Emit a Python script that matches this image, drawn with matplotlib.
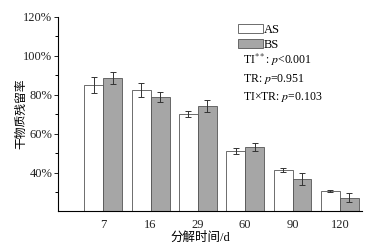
import numpy as np
import matplotlib.pyplot as plt
from matplotlib.ticker import MultipleLocator, FuncFormatter
from matplotlib.patches import Patch

# decomposition time (d) and remaining dry mass (%)
days = ["7", "16", "29", "60", "90", "120"]
as_mean = [85.1, 82.6, 70.3, 51.3, 41.5, 30.8]
as_err = [4.0, 3.5, 1.5, 1.5, 0.8, 0.5]
bs_mean = [88.6, 78.8, 74.4, 53.2, 36.9, 27.3]
bs_err = [3.0, 2.5, 3.0, 2.0, 3.0, 2.3]

serif = ['Liberation Serif', 'Noto Sans CJK SC']
cjk = ['Noto Sans CJK SC', 'DejaVu Sans']
plt.rcParams['font.family'] = serif
plt.rcParams['mathtext.fontset'] = 'stix'

fig = plt.figure(figsize=(3.78, 2.49), dpi=100)
ax = fig.add_axes([0.153, 0.153, 0.805, 0.779])

x = np.arange(len(days))
w = 0.4
ekw = dict(elinewidth=0.7, capthick=0.7, capsize=2, ecolor='#333333')
ax.bar(x - w/2, as_mean, w, yerr=as_err, color='white', edgecolor='#555555',
       linewidth=0.6, error_kw=ekw)
ax.bar(x + w/2, bs_mean, w, yerr=bs_err, color='#a6a6a6', edgecolor='#555555',
       linewidth=0.6, error_kw=ekw)

ax.set_xlim(-0.96, 5.47)
ax.set_ylim(20.5, 120)
ax.set_xticks(x)
ax.set_xticklabels(days)
ax.yaxis.set_major_locator(MultipleLocator(20))
ax.yaxis.set_minor_locator(MultipleLocator(10))
ax.yaxis.set_major_formatter(FuncFormatter(lambda v, p: '%d%%' % v if v >= 40 else ''))
ax.tick_params(axis='both', labelsize=9, width=0.7, length=3, colors='#222222')
ax.tick_params(axis='y', which='major', pad=1)
ax.tick_params(axis='y', which='minor', width=0.7, length=2)
ax.tick_params(axis='x', length=0, pad=6)
for s in ['top', 'right']:
    ax.spines[s].set_visible(False)
for s in ['left', 'bottom']:
    ax.spines[s].set_linewidth(0.8)

ax.set_ylabel('干物质残留率', family=cjk, fontsize=8.5)
ax.yaxis.set_label_coords(-0.1, 0.5)
ax.set_xlabel('分解时间/d', family=serif, fontsize=9)
ax.xaxis.set_label_coords(0.467, -0.105)

handles = [Patch(facecolor='white', edgecolor='#555555', linewidth=0.6),
           Patch(facecolor='#a6a6a6', edgecolor='#555555', linewidth=0.6)]
ax.legend(handles, ['AS', 'BS'], loc='upper left', bbox_to_anchor=(0.57, 0.995),
          frameon=False, fontsize=9, handlelength=2.0, handleheight=0.75,
          handletextpad=0.1, borderpad=0, labelspacing=0.25)

fig.text(0.643, 0.76, r'TI$^{**}$: $p$<0.001', fontsize=8.5, va='center')
fig.text(0.643, 0.683, r'TR: $p$=0.951', fontsize=8.5, va='center')
fig.text(0.643, 0.61, r'TI×TR: $p$=0.103', fontsize=8.5, va='center')

fig.savefig('out.png', dpi=100)
